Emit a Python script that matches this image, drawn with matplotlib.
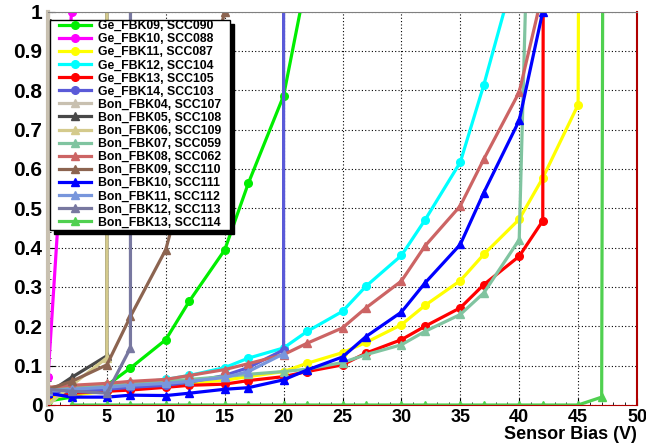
import matplotlib.pyplot as plt
from matplotlib.patches import Rectangle
from matplotlib.ticker import MultipleLocator, FuncFormatter

plt.rcParams['font.family'] = ['Liberation Sans', 'DejaVu Sans']

# sensor bias (V) and relative noise for each board
ge09_x = [0, 2, 5, 7, 10, 12, 15, 17, 20, 22]
ge09_y = [0.01, 0.02, 0.05, 0.094, 0.166, 0.264, 0.394, 0.563, 0.786, 1.09]

ge10_x = [0, 2]
ge10_y = [0.07, 1.0]

ge11_x = [0, 2, 5, 7, 10, 12, 15, 17, 20, 22, 25, 27, 30, 32, 35, 37, 40, 42, 45, 45.05]
ge11_y = [0.02, 0.025, 0.035, 0.04, 0.048, 0.055, 0.063, 0.072, 0.085, 0.106, 0.133,
          0.159, 0.204, 0.253, 0.316, 0.383, 0.472, 0.577, 0.763, 1.2]

ge12_x = [0, 2, 5, 7, 10, 12, 15, 17, 20, 22, 25, 27, 30, 32, 35, 37, 40]
ge12_y = [0.03, 0.04, 0.048, 0.055, 0.065, 0.075, 0.095, 0.119, 0.145, 0.187, 0.238,
          0.302, 0.38, 0.47, 0.617, 0.814, 1.14]

ge13_x = [0, 2, 5, 7, 10, 12, 15, 17, 20, 22, 25, 27, 30, 32, 35, 37, 40, 42, 42.05]
ge13_y = [0.025, 0.03, 0.035, 0.038, 0.045, 0.05, 0.053, 0.062, 0.072, 0.085, 0.102,
          0.132, 0.166, 0.2, 0.247, 0.306, 0.378, 0.468, 1.2]

ge14_x = [0, 2, 5, 7, 10, 12, 15, 17, 20, 20]
ge14_y = [0.03, 0.035, 0.04, 0.045, 0.05, 0.058, 0.075, 0.095, 0.14, 1.2]

bon04_x = [0, 0]
bon04_y = [0.0, 1.2]

bon05_x = [0, 2, 5, 5]
bon05_y = [0.03, 0.07, 0.125, 1.2]

bon06_x = [0, 2, 5, 5]
bon06_y = [0.0, 0.05, 0.12, 1.2]

bon07_x = [0, 2, 5, 7, 10, 12, 15, 17, 20, 22, 25, 27, 30, 32, 35, 37, 40, 40.7]
bon07_y = [0.04, 0.045, 0.05, 0.055, 0.06, 0.065, 0.072, 0.078, 0.085, 0.091, 0.108,
           0.128, 0.153, 0.187, 0.23, 0.285, 0.42, 1.2]

bon08_x = [0, 2, 5, 7, 10, 12, 15, 17, 20, 22, 25, 27, 30, 32, 35, 37, 40, 42]
bon08_y = [0.045, 0.05, 0.055, 0.06, 0.065, 0.075, 0.09, 0.105, 0.128, 0.157, 0.196,
           0.247, 0.315, 0.404, 0.506, 0.625, 0.795, 1.05]

bon09_x = [0, 2, 5, 7, 10, 12, 15]
bon09_y = [0.04, 0.06, 0.102, 0.225, 0.395, 0.62, 1.0]

bon10_x = [0, 2, 5, 7, 10, 12, 15, 17, 20, 22, 25, 27, 30, 32, 35, 37, 40, 42]
bon10_y = [0.03, 0.02, 0.02, 0.025, 0.024, 0.03, 0.04, 0.044, 0.064, 0.089, 0.122,
           0.174, 0.236, 0.31, 0.408, 0.54, 0.723, 1.0]

bon11_x = [0, 2, 5, 7, 10, 12, 15, 17, 20]
bon11_y = [0.035, 0.04, 0.045, 0.05, 0.055, 0.06, 0.07, 0.085, 0.13]

bon12_x = [0, 2, 5, 7, 7]
bon12_y = [0.04, 0.035, 0.03, 0.145, 1.2]

bon13_x = [2, 5, 7, 10, 12, 15, 17, 20, 22, 25, 27, 30, 32, 35, 37, 40, 42, 45, 47, 47.1]
bon13_y = [0, 0, 0, 0, 0, 0, 0, 0, 0, 0, 0, 0, 0, 0, 0, 0, 0, 0, 0.02, 1.2]

series = [
    ("Ge_FBK09, SCC090", ge09_x, ge09_y, '#00ee00', 'o'),
    ("Ge_FBK10, SCC088", ge10_x, ge10_y, '#ff00ff', 'o'),
    ("Ge_FBK11, SCC087", ge11_x, ge11_y, '#ffff00', 'o'),
    ("Ge_FBK12, SCC104", ge12_x, ge12_y, '#00ffff', 'o'),
    ("Ge_FBK13, SCC105", ge13_x, ge13_y, '#ff0000', 'o'),
    ("Ge_FBK14, SCC103", ge14_x, ge14_y, '#5a5ad8', 'o'),
    ("Bon_FBK04, SCC107", bon04_x, bon04_y, '#c8c0b0', '^'),
    ("Bon_FBK05, SCC108", bon05_x, bon05_y, '#484848', '^'),
    ("Bon_FBK06, SCC109", bon06_x, bon06_y, '#d4ca8c', '^'),
    ("Bon_FBK07, SCC059", bon07_x, bon07_y, '#80c4a0', '^'),
    ("Bon_FBK08, SCC062", bon08_x, bon08_y, '#cc6464', '^'),
    ("Bon_FBK09, SCC110", bon09_x, bon09_y, '#8c6450', '^'),
    ("Bon_FBK10, SCC111", bon10_x, bon10_y, '#0000ff', '^'),
    ("Bon_FBK11, SCC112", bon11_x, bon11_y, '#7896dc', '^'),
    ("Bon_FBK12, SCC113", bon12_x, bon12_y, '#7878a0', '^'),
    ("Bon_FBK13, SCC114", bon13_x, bon13_y, '#50d050', '^'),
]

W, H = 646, 447
fig = plt.figure(figsize=(W / 100, H / 100), dpi=100)
ax = fig.add_axes([48 / W, 1 - 405 / H, 589 / W, 393.5 / H])

for label, xs, ys, col, mk in series:
    ax.plot(xs, ys, color=col, marker=mk, markersize=5.5, lw=2.3, label=label)

ax.set_xlim(0, 50)
ax.set_ylim(0, 1)
ax.xaxis.set_major_locator(MultipleLocator(5))
ax.xaxis.set_minor_locator(MultipleLocator(1))
ax.yaxis.set_major_locator(MultipleLocator(0.1))
ax.yaxis.set_minor_locator(MultipleLocator(0.02))
ax.yaxis.set_major_formatter(FuncFormatter(lambda v, p: ('%.1f' % v).rstrip('0').rstrip('.')))

ax.grid(True, which='major', color='black', linestyle=(0, (1, 2)), lw=0.8)
ax.tick_params(which='both', direction='in', top=False, right=False, color='black')
ax.tick_params(which='major', length=5)
ax.tick_params(which='minor', length=2.5)
ax.tick_params(axis='y', labelsize=15, pad=4)
ax.tick_params(axis='x', labelsize=13, pad=3)
for t in ax.get_xticklabels() + ax.get_yticklabels():
    t.set_fontweight('bold')

ax.spines['top'].set_color('#808080')
ax.spines['right'].set_color('#b00000')
ax.spines['right'].set_linewidth(1.5)
ax.spines['bottom'].set_color('#b00000')
ax.spines['left'].set_color('#c8c0b0')
ax.spines['left'].set_linewidth(3)

fig.text(637 / W, 1 - 426 / H, 'Sensor Bias (V)', ha='right', va='top',
         fontsize=13, fontweight='bold')

# legend box (pixel coords from top-left) with a solid drop shadow, over the curves
bx0, by0, bx1, by1 = 50, 20, 230, 230
bw, bh = (bx1 - bx0) / W, (by1 - by0) / H
shadow = Rectangle(((bx0 + 3.5) / W, 1 - (by1 + 3.5) / H), bw, bh,
                   transform=fig.transFigure, facecolor='black', edgecolor='black',
                   zorder=4.4, clip_on=False)
frame = Rectangle((bx0 / W, 1 - by1 / H), bw, bh,
                  transform=fig.transFigure, facecolor='white', edgecolor='black',
                  lw=1.0, zorder=4.5, clip_on=False)
ax.add_patch(shadow)
ax.add_patch(frame)

leg = ax.legend(loc='upper left', bbox_to_anchor=(59 / W, 1 - 20 / H),
                bbox_transform=fig.transFigure, prop={'size': 8.8, 'weight': 'bold'},
                handlelength=2.6, handletextpad=0.55, labelspacing=0.09,
                borderpad=0, borderaxespad=0, frameon=False)
leg.set_zorder(5)

fig.savefig('out.png', dpi=100)
